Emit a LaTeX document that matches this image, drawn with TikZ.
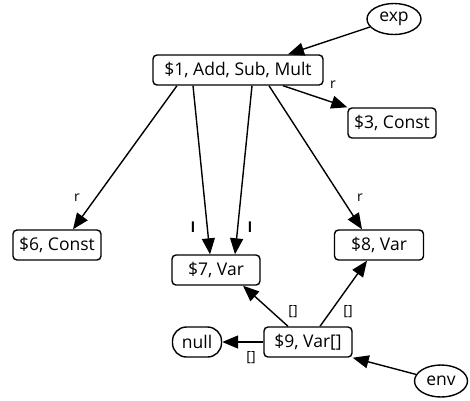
\documentclass[tikz,border=0pt]{standalone}
\usepackage{fontspec}
\setmainfont{Open Sans}
\usetikzlibrary{arrows.meta,shapes.geometric,calc}
\begin{document}
\begin{tikzpicture}[x=1pt,y=-1pt,
  every node/.style={font=\fontsize{17.5}{20}\selectfont},
  recbox/.style={draw,line width=1.4pt,rounded corners=4pt,minimum height=30pt,inner sep=0pt},
  rootnode/.style={draw,line width=1.4pt,ellipse,minimum width=54pt,minimum height=31pt,inner sep=0pt},
  pill/.style={draw,line width=1.4pt,rounded corners=14pt,minimum width=49pt,minimum height=30pt,inner sep=0pt},
  edge/.style={draw,line width=1.4pt,-{Triangle[length=16pt,width=13pt]}},
  lbl/.style={font=\fontsize{14}{16}\selectfont,inner sep=0pt}]
\useasboundingbox (0,0) rectangle (470,400);

\node[rootnode] (exp) at (394,19) {exp};
\node[recbox,minimum width=170pt] (n1) at (238,70) {\$1, Add, Sub, Mult};
\node[recbox,minimum width=88pt] (n3) at (392,123) {\$3, Const};
\node[recbox,minimum width=88pt] (n6) at (57,245) {\$6, Const};
\node[recbox,minimum width=88pt] (n7) at (216,270) {\$7, Var};
\node[recbox,minimum width=89pt] (n8) at (379,245) {\$8, Var};
\node[recbox,minimum width=88pt] (n9) at (308,342) {\$9, Var[]};
\node[pill] (null) at (197,342) {null};
\node[rootnode,minimum width=53pt,minimum height=32pt] (env) at (441,381) {env};

% entry points
\draw[edge] (exp) -- ([xshift=50pt]n1.north);
\draw[edge] (env) -- (n9.south east);

% children of the Add/Sub/Mult node
\draw[edge] ([xshift=45pt]n1.south) -- (n3.north west);
\node[lbl] at (333,85) {r};
\draw[edge] ([xshift=-61pt]n1.south) -- ([xshift=16pt]n6.north);
\node[lbl] at (77,198) {r};
\draw[edge] ([xshift=-45pt]n1.south) -- ([xshift=-6pt]n7.north);
\node[lbl,font=\fontsize{14}{16}\selectfont\bfseries] at (193,227) {l};
\draw[edge] ([xshift=14pt]n1.south) -- ([xshift=19pt]n7.north);
\node[lbl,font=\fontsize{14}{16}\selectfont\bfseries] at (250,227) {l};
\draw[edge] ([xshift=31pt]n1.south) -- ([xshift=-17pt]n8.north);
\node[lbl] at (360,198) {r};

% array node links
\draw[edge] ([xshift=-20pt]n9.north) -- ([xshift=27pt]n7.south);
\node[lbl] at (293,312) {[]};
\draw[edge] ([xshift=12pt]n9.north) -- ([xshift=-12pt]n8.south);
\node[lbl] at (348,312) {[]};
\draw[edge] (n9.west) -- (null.east);
\node[lbl] at (251,358) {[]};
\end{tikzpicture}
\end{document}
